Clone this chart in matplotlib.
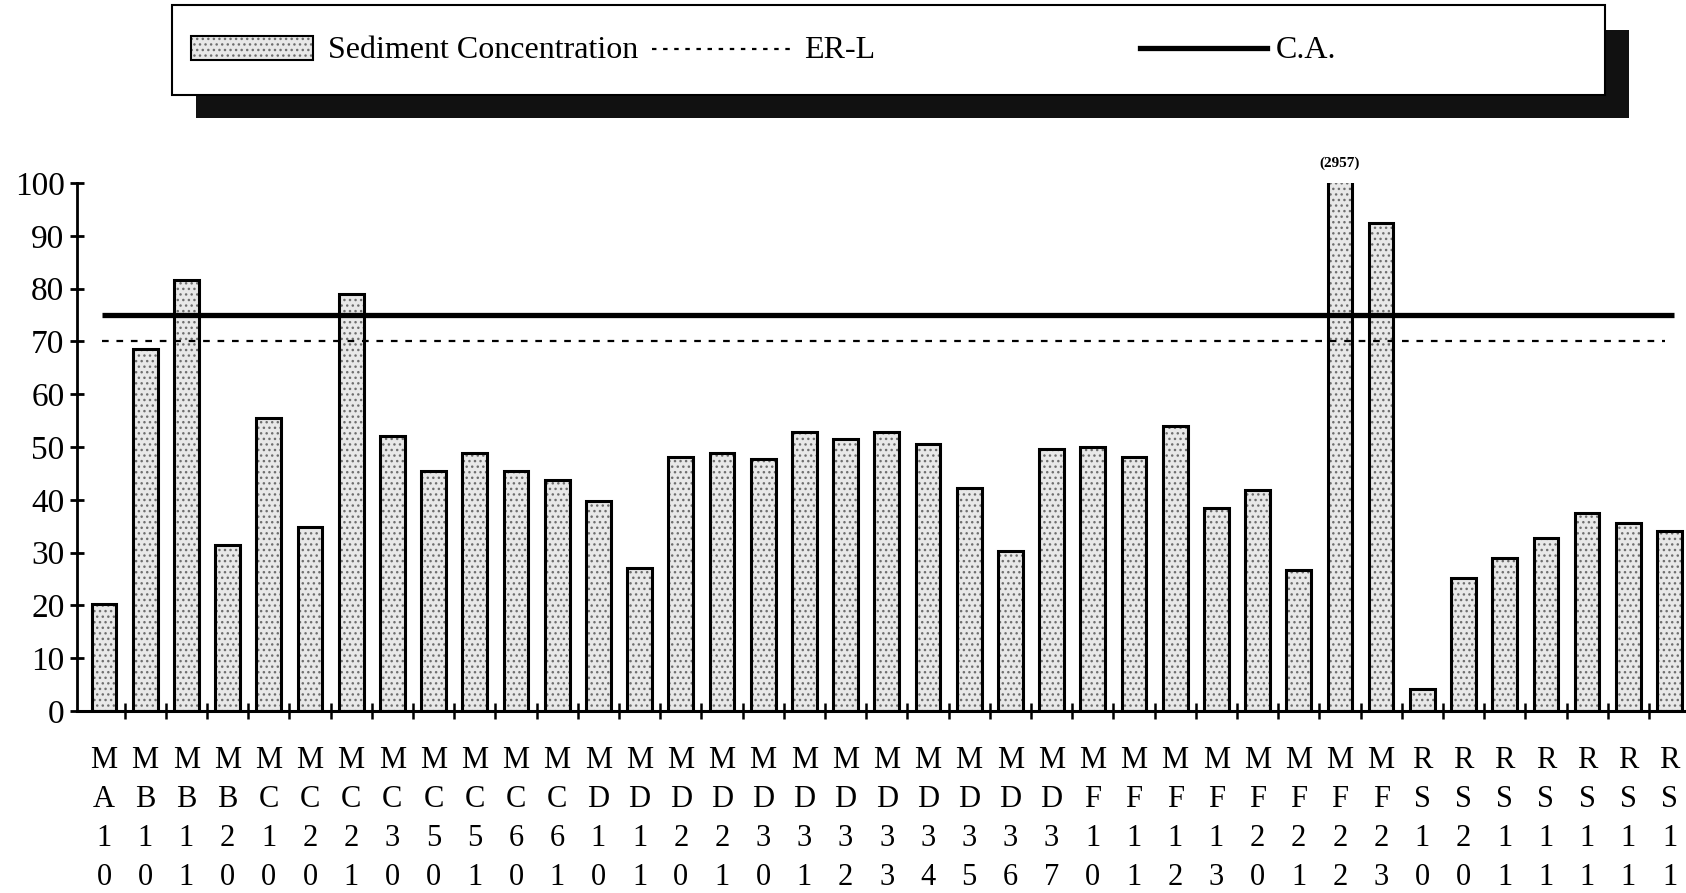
import matplotlib
matplotlib.use("Agg")
import matplotlib.pyplot as plt
from matplotlib.patches import Rectangle
from matplotlib.lines import Line2D
import numpy as np

plt.rcParams['font.family'] = ['Liberation Serif', 'DejaVu Serif']

# station codes, one per bar (read top to bottom under each bar)
stations = ["MA10", "MB10", "MB11", "MB20", "MC10", "MC20", "MC21", "MC30",
            "MC50", "MC51", "MC60", "MC61", "MD10", "MD11", "MD20", "MD21",
            "MD30", "MD31", "MD32", "MD33", "MD34", "MD35", "MD36", "MD37",
            "MF10", "MF11", "MF12", "MF13", "MF20", "MF21", "MF22", "MF23",
            "RS10", "RS20", "RS11", "RS11", "RS11", "RS11", "RS11"]
# sediment concentration per station
conc = [20.3, 68.5, 81.7, 31.4, 55.4, 34.8, 78.9, 52.1, 45.4, 48.8,
        45.4, 43.8, 39.7, 27.1, 48.2, 48.8, 47.7, 52.9, 51.5, 52.9,
        50.5, 42.3, 30.3, 49.6, 50.0, 48.1, 53.9, 38.4, 41.8, 26.7,
        2957, 92.5, 4.1, 25.1, 29.0, 32.7, 37.5, 35.6, 34.1]
erl = 70   # ER-L guideline
ca = 75    # C.A. guideline
yticks = list(range(0, 101, 10))

W, H = 1686, 893
fig = plt.figure(figsize=(W / 100, H / 100), dpi=100)
ax = fig.add_axes([77 / W, 1 - 711 / H, (W - 77) / W, 528 / H])

x = np.arange(len(conc))
bw = 0.6
# dotted fill, then black outline on top
ax.bar(x, conc, width=bw, color='#e8e8e8', edgecolor='#6e6e6e', hatch='...',
       linewidth=0, zorder=2)
ax.bar(x, conc, width=bw, fill=False, edgecolor='black', linewidth=2.2, zorder=3)

ax.hlines(ca, -0.05, 38.1, colors='black', linewidth=3.8, zorder=4)
ax.hlines(erl, -0.05, 37.9, colors='black', linewidth=1.6,
          linestyles=(0, (3, 3.5)), zorder=4)

# the off-scale bar gets its value written above the frame
ax.annotate("(%d)" % conc[30], (30, 100), xytext=(0, 14), textcoords='offset points',
            ha='center', va='center', fontsize=11, fontweight='bold',
            annotation_clip=False)

ax.set_xlim(-0.655, 38.4)
ax.set_ylim(0, 100)
ax.spines['top'].set_visible(False)
ax.spines['right'].set_visible(False)
ax.spines['left'].set_linewidth(2)
ax.spines['bottom'].set_linewidth(2.2)

ax.set_yticks(yticks)
ax.tick_params(axis='y', direction='inout', length=10, width=2, labelsize=24, pad=4)

ax.set_xticks(x[:-1] + 0.5)
ax.set_xticklabels([])
ax.tick_params(axis='x', which='major', direction='inout', length=12, width=1.8)
ax.set_xticks(x, ["\n".join(s) for s in stations], minor=True)
ax.tick_params(axis='x', which='minor', length=0, pad=25, labelsize=22)
for lab in ax.get_xticklabels(minor=True):
    lab.set_linespacing(1.46)

# legend box with drop shadow, placed in pixel coordinates
lg = fig.add_axes([0, 0, 1, 1], zorder=5)
lg.set_xlim(0, W)
lg.set_ylim(H, 0)
lg.axis('off')
lg.add_patch(Rectangle((196, 30), 1433, 88, facecolor='#111111', edgecolor='none'))
lg.add_patch(Rectangle((172, 5), 1433, 90, facecolor='white', edgecolor='black',
                       linewidth=1.5))
lg.add_patch(Rectangle((191, 36), 122, 24, facecolor='#e8e8e8', edgecolor='#6e6e6e',
                       hatch='...', linewidth=0))
lg.add_patch(Rectangle((191, 36), 122, 24, fill=False, edgecolor='black', linewidth=1.5))
lg.text(328, 50, "Sediment Concentration", fontsize=23, va='center', ha='left')
lg.add_line(Line2D([652, 790], [49, 49], color='black', linewidth=1.6,
                   linestyle=(0, (2, 3))))
lg.text(804, 50, "ER-L", fontsize=23, va='center', ha='left')
lg.add_line(Line2D([1140, 1267], [48, 48], color='black', linewidth=3.8))
lg.text(1276, 50, "C.A.", fontsize=23, va='center', ha='left')

fig.savefig("out.png", dpi=100)
